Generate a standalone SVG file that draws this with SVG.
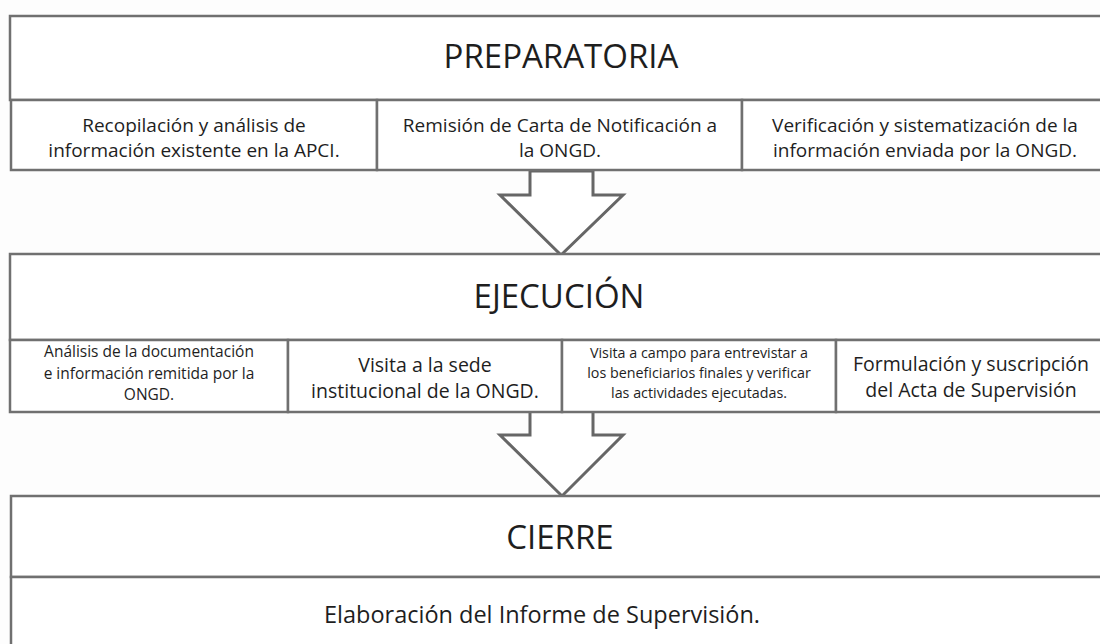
<svg xmlns="http://www.w3.org/2000/svg" width="1100" height="644" viewBox="0 0 1100 644">
  <style>
    .bg { fill: #fdfdfd; }
    .box { fill: #ffffff; stroke: #707070; stroke-width: 2.5; }
    .arrow { fill: #ffffff; stroke: #666666; stroke-width: 3; stroke-linejoin: miter; }
    text { font-family: "Open Sans", "DejaVu Sans", sans-serif; fill: #1e1e1e; text-anchor: middle; }
    .title { font-size: 33px; }
    .t19 { font-size: 19px; }
    .t195 { font-size: 19.5px; }
    .t16 { font-size: 15.5px; }
    .t15 { font-size: 14.3px; }
    .t23 { font-size: 23.5px; }
  </style>
  <rect class="bg" x="0" y="0" width="1100" height="644"/>

  <g id="connectors">
    <polygon class="arrow" points="530,171 530,195 500,195 561,255 623,195 593,195 593,171"/>
    <polygon class="arrow" points="530,411 530,435 500,435 562,496 623,435 593,435 593,411"/>
  </g>

  <g id="preparatoria">
    <rect class="box" x="10" y="16" width="1100" height="84"/>
    <text class="title" x="561" y="68">PREPARATORIA</text>
    <g id="prep-1">
      <rect class="box" x="11" y="100" width="366" height="70"/>
      <text class="t19" x="194" y="132">Recopilación y análisis de</text>
      <text class="t19" x="194" y="157">información existente en la APCI.</text>
    </g>
    <g id="prep-2">
      <rect class="box" x="377" y="100" width="365" height="70"/>
      <text class="t19" x="560" y="132">Remisión de Carta de Notificación a</text>
      <text class="t19" x="560" y="157">la ONGD.</text>
    </g>
    <g id="prep-3">
      <rect class="box" x="742" y="100" width="370" height="70"/>
      <text class="t19" x="925" y="132">Verificación y sistematización de la</text>
      <text class="t19" x="925" y="157">información enviada por la ONGD.</text>
    </g>
  </g>

  <g id="ejecucion">
    <rect class="box" x="10" y="254" width="1100" height="86"/>
    <text class="title" x="559" y="308">EJECUCIÓN</text>
    <g id="ejec-1">
      <rect class="box" x="10" y="340" width="278" height="72"/>
      <text class="t16" x="149" y="357">Análisis de la documentación</text>
      <text class="t16" x="149" y="378.5">e información remitida por la</text>
      <text class="t16" x="149" y="400">ONGD.</text>
    </g>
    <g id="ejec-2">
      <rect class="box" x="288" y="340" width="274" height="72"/>
      <text class="t195" x="425" y="372">Visita a la sede</text>
      <text class="t195" x="425" y="398">institucional de la ONGD.</text>
    </g>
    <g id="ejec-3">
      <rect class="box" x="562" y="340" width="274" height="72"/>
      <text class="t15" x="699" y="358">Visita a campo para entrevistar a</text>
      <text class="t15" x="699" y="378">los beneficiarios finales y verificar</text>
      <text class="t15" x="699" y="398">las actividades ejecutadas.</text>
    </g>
    <g id="ejec-4">
      <rect class="box" x="836" y="340" width="276" height="72"/>
      <text class="t195" x="971" y="371">Formulación y suscripción</text>
      <text class="t195" x="971" y="397">del Acta de Supervisión</text>
    </g>
  </g>

  <g id="cierre">
    <rect class="box" x="11" y="496" width="1100" height="81"/>
    <text class="title" x="560" y="549">CIERRE</text>
    <g id="cierre-1">
      <rect class="box" x="11" y="577" width="1100" height="80"/>
      <text class="t23" x="542" y="623">Elaboración del Informe de Supervisión.</text>
    </g>
  </g>
</svg>
